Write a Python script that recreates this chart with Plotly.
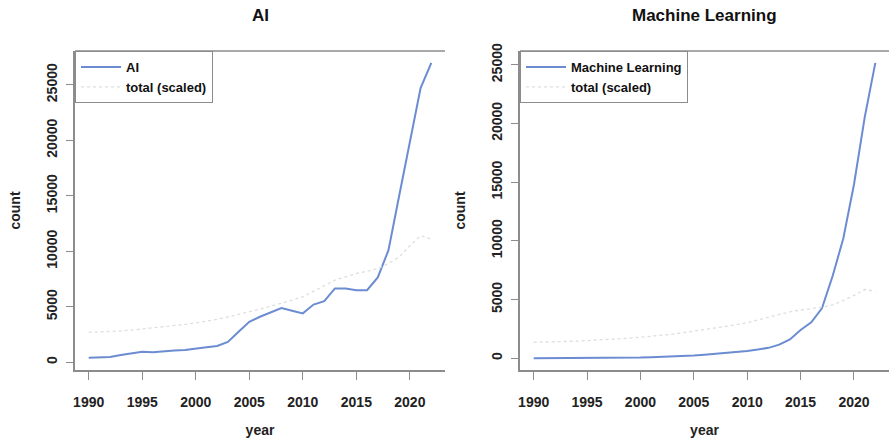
import plotly.graph_objects as go

years = list(range(1990, 2023))

ai_counts = [400, 470, 480, 650, 800, 950, 900, 1000, 1060, 1100, 1250, 1350, 1470,
             1830, 2750, 3650, 4100, 4500, 4880, 4650, 4410, 5200, 5500, 6650, 6650,
             6500, 6500, 7650, 10100, 15000, 19800, 24700, 26980]
ai_total_scaled = [2700, 2720, 2760, 2820, 2900, 3000, 3080, 3180, 3300, 3420, 3550,
                   3700, 3880, 4080, 4300, 4550, 4800, 5050, 5300, 5600, 5900, 6400,
                   6900, 7400, 7700, 8000, 8200, 8450, 8900, 9500, 10500, 11400, 11100]

ml_counts = [0, 0, 0, 0, 0, 0, 0, 10, 20, 30, 50, 80, 100, 120, 170, 220, 290, 360,
             430, 520, 620, 740, 880, 1150, 1600, 2400, 3050, 4250, 7000, 10200,
             14800, 20500, 25170]
ml_total_scaled = [1350, 1360, 1380, 1410, 1450, 1500, 1540, 1590, 1650, 1710, 1780,
                   1860, 1950, 2050, 2170, 2300, 2430, 2560, 2700, 2850, 3030, 3250,
                   3500, 3750, 3950, 4100, 4200, 4350, 4550, 4900, 5350, 5850, 5700]

x_ticks = [1990, 1995, 2000, 2005, 2010, 2015, 2020]
y_ticks = [0, 5000, 10000, 15000, 20000, 25000]

W, H = 889, 442
LINE_BLUE = "#6c8cd2"
DOT_GRAY = "#dedede"
AXIS_GRAY = "#8c8c8c"
FONT = "Liberation Sans, Arial, sans-serif"

fig = go.Figure()
fig.add_trace(go.Scatter(x=years, y=ai_counts, mode="lines", name="AI",
                         line=dict(color=LINE_BLUE, width=2), xaxis="x", yaxis="y",
                         legend="legend"))
fig.add_trace(go.Scatter(x=years, y=ai_total_scaled, mode="lines", name="total (scaled)",
                         line=dict(color=DOT_GRAY, width=1.3, dash="dot"), xaxis="x", yaxis="y",
                         legend="legend"))
fig.add_trace(go.Scatter(x=years, y=ml_counts, mode="lines", name="Machine Learning",
                         line=dict(color=LINE_BLUE, width=2), xaxis="x2", yaxis="y2",
                         legend="legend2"))
fig.add_trace(go.Scatter(x=years, y=ml_total_scaled, mode="lines", name="total (scaled)",
                         line=dict(color=DOT_GRAY, width=1.3, dash="dot"), xaxis="x2", yaxis="y2",
                         legend="legend2"))

left_dom = [75 / W, 445 / W]
right_dom = [520 / W, 889 / W]
ydom = [1 - 370 / H, 1 - 51 / H]

tickfont = dict(family=FONT, size=14, color="#222222", weight="bold")
common_x = dict(range=[1988.72, 2023.28], tickvals=x_ticks, tickformat="d",
                showgrid=False, zeroline=False, showline=True, linecolor=AXIS_GRAY,
                linewidth=1.5, ticks="outside", ticklen=8, tickcolor=AXIS_GRAY,
                tickwidth=1.2, tickfont=tickfont, ticklabelstandoff=10,
                title=dict(text="year", font=dict(family=FONT, size=14, color="#222222", weight="bold"),
                           standoff=17),
                automargin=False, fixedrange=True)
common_y = dict(tickvals=y_ticks, tickformat="d", tickangle=-90,
                showgrid=False, zeroline=False, showline=True, linecolor=AXIS_GRAY,
                linewidth=1.5, ticks="outside", ticklen=7, tickcolor=AXIS_GRAY,
                tickwidth=1.2, tickfont=tickfont, ticklabelstandoff=4,
                title=dict(text="count", font=dict(family=FONT, size=14, color="#222222", weight="bold"),
                           standoff=20),
                automargin=False, fixedrange=True)

legend_common = dict(bgcolor="white", bordercolor=AXIS_GRAY, borderwidth=1,
                     font=dict(family=FONT, size=13, color="#111111", weight="bold"),
                     xanchor="left", yanchor="top", itemwidth=40, tracegroupgap=0)

fig.update_layout(
    width=W, height=H,
    margin=dict(l=0, r=0, t=0, b=0),
    paper_bgcolor="white", plot_bgcolor="white",
    xaxis=dict(domain=left_dom, anchor="y", **common_x),
    yaxis=dict(domain=ydom, anchor="x", range=[-694, 28045], **common_y),
    xaxis2=dict(domain=right_dom, anchor="y2", **common_x),
    yaxis2=dict(domain=ydom, anchor="x2", range=[-1007, 26177], **common_y),
    legend=dict(x=left_dom[0], y=ydom[1], **legend_common),
    legend2=dict(x=right_dom[0], y=ydom[1], **legend_common),
    shapes=[
        dict(type="line", xref="x domain", yref="y domain", x0=0, x1=1, y0=1, y1=1,
             line=dict(color=AXIS_GRAY, width=1.5)),
        dict(type="line", xref="x2 domain", yref="y2 domain", x0=0, x1=1, y0=1, y1=1,
             line=dict(color=AXIS_GRAY, width=1.5)),
    ],
    annotations=[
        dict(text="AI", xref="paper", yref="paper", x=sum(left_dom) / 2, y=1 - 16 / H,
             showarrow=False, xanchor="center", yanchor="middle",
             font=dict(family=FONT, size=17, color="#111111", weight="bold")),
        dict(text="Machine Learning", xref="paper", yref="paper", x=sum(right_dom) / 2,
             y=1 - 16 / H, showarrow=False, xanchor="center", yanchor="middle",
             font=dict(family=FONT, size=17, color="#111111", weight="bold")),
    ],
    showlegend=True,
)

fig.write_html("out.html")
